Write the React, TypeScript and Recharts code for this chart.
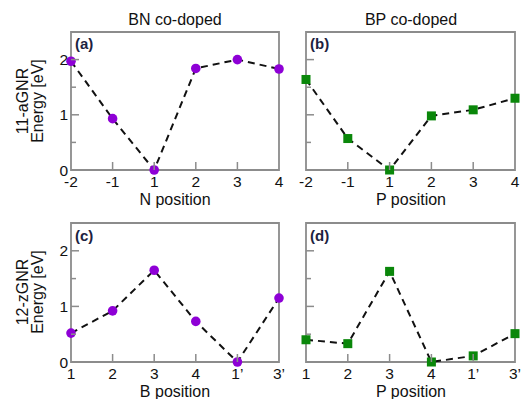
import { LineChart, Line, XAxis, YAxis, ReferenceArea } from 'recharts';

const nPositions = ['-2', '-1', '1', '2', '3', '4'];
const bnArmchair = [1.97, 0.93, 0, 1.84, 2.0, 1.83];
const bpArmchair = [1.64, 0.57, 0, 0.98, 1.09, 1.3];

const zPositions = ['1', '2', '3', '4', '1’', '3’'];
const bnZigzag = [0.52, 0.92, 1.65, 0.73, 0, 1.15];
const bpZigzag = [0.4, 0.33, 1.63, 0, 0.11, 0.51];

const yTicks = [0, 0.5, 1, 1.5, 2];

const W = 528;
const H = 399;
const FONT = '"Liberation Sans", Arial, sans-serif';
const PURPLE = '#8e00d6';
const GREEN = '#0a870a';
const FRAME = '#8c8c8c';
const AXIS_W = 30;
const AXIS_H = 25;

interface PanelProps {
  positions: string[];
  values: number[];
  box: { left: number; top: number; right: number; bottom: number };
  color: string;
  square?: boolean;
  yLabels?: boolean;
}

const Panel = ({ positions, values, box, color, square, yLabels }: PanelProps) => {
  const data = positions.map((pos, i) => ({ pos, energy: values[i] }));

  const renderXTick = (props: any) => {
    const { x, payload, index } = props;
    const edge = index === positions.length - 1 || index === 0;
    return (
      <g key={`x-${index}`}>
        {!edge && (
          <line x1={x} y1={box.bottom} x2={x} y2={box.bottom - 8} stroke={FRAME} strokeWidth={1.5} />
        )}
        <text x={x} y={box.bottom + 17} textAnchor="middle" fontSize={15.5} fontFamily={FONT} fill="#111">
          {payload.value}
        </text>
      </g>
    );
  };

  const renderYTick = (props: any) => {
    const { y, payload, index } = props;
    const major = Number.isInteger(payload.value);
    return (
      <g key={`y-${index}`}>
        {payload.value !== 0 && (
          <line
            x1={box.left}
            y1={y}
            x2={box.left + (major ? 8 : 5)}
            y2={y}
            stroke={FRAME}
            strokeWidth={1.5}
          />
        )}
        {yLabels && major && (
          <text x={box.left - 3} y={y} dy="0.36em" textAnchor="end" fontSize={15.5} fontFamily={FONT} fill="#111">
            {payload.value}
          </text>
        )}
      </g>
    );
  };

  const renderMarker = (props: any) => {
    const { cx, cy, index } = props;
    if (square) {
      return <rect key={`m-${index}`} x={cx - 4.5} y={cy - 4.5} width={9} height={9} fill={color} />;
    }
    return <circle key={`m-${index}`} cx={cx} cy={cy} r={4.8} fill={color} />;
  };

  return (
    <div style={{ position: 'absolute', left: 0, top: 0 }}>
      <LineChart
        width={W}
        height={H}
        data={data}
        margin={{
          top: box.top,
          left: box.left - AXIS_W,
          right: W - box.right,
          bottom: H - box.bottom - AXIS_H,
        }}
      >
        <XAxis
          dataKey="pos"
          height={AXIS_H}
          interval={0}
          axisLine={false}
          tickLine={false}
          tick={renderXTick}
          padding={{ left: 0, right: 0 }}
        />
        <YAxis
          type="number"
          domain={[0, 2.5]}
          ticks={yTicks}
          interval={0}
          width={AXIS_W}
          axisLine={false}
          tickLine={false}
          tick={renderYTick}
        />
        <ReferenceArea
          x1={positions[0]}
          x2={positions[positions.length - 1]}
          y1={0}
          y2={2.5}
          fill="none"
          stroke={FRAME}
          strokeWidth={1.8}
        />
        <Line
          type="linear"
          dataKey="energy"
          stroke="#111"
          strokeWidth={2}
          strokeDasharray="7 5"
          dot={renderMarker}
          activeDot={false}
          isAnimationActive={false}
        />
      </LineChart>
    </div>
  );
};

const txt = { fontFamily: FONT, fill: '#111' };

const App = () => {
  return (
    <div style={{ position: 'absolute', left: 0, top: 0, width: W, height: H, background: '#fff' }}>
      <Panel
        positions={nPositions}
        values={bnArmchair}
        box={{ left: 71, top: 32, right: 279, bottom: 170 }}
        color={PURPLE}
        yLabels
      />
      <Panel
        positions={nPositions}
        values={bpArmchair}
        box={{ left: 306, top: 32, right: 515, bottom: 170 }}
        color={GREEN}
        square
      />
      <Panel
        positions={zPositions}
        values={bnZigzag}
        box={{ left: 71, top: 223, right: 279, bottom: 362 }}
        color={PURPLE}
        yLabels
      />
      <Panel
        positions={zPositions}
        values={bpZigzag}
        box={{ left: 306, top: 223, right: 515, bottom: 362 }}
        color={GREEN}
        square
      />
      <svg
        width={W}
        height={H}
        style={{ position: 'absolute', left: 0, top: 0, pointerEvents: 'none' }}
      >
        <text x={175} y={25} textAnchor="middle" fontSize={16} {...txt}>BN co-doped</text>
        <text x={411} y={25} textAnchor="middle" fontSize={16} {...txt}>BP co-doped</text>

        <text x={175} y={205} textAnchor="middle" fontSize={16} {...txt}>N position</text>
        <text x={411} y={205} textAnchor="middle" fontSize={16} {...txt}>P position</text>
        <text x={175} y={396.5} textAnchor="middle" fontSize={16} {...txt}>B position</text>
        <text x={411} y={396.5} textAnchor="middle" fontSize={16} {...txt}>P position</text>

        <text transform="translate(28,101) rotate(-90)" textAnchor="middle" fontSize={16} {...txt}>11-aGNR</text>
        <text transform="translate(43,101) rotate(-90)" textAnchor="middle" fontSize={16} {...txt}>Energy [eV]</text>
        <text transform="translate(28,292) rotate(-90)" textAnchor="middle" fontSize={16} {...txt}>12-zGNR</text>
        <text transform="translate(43,292) rotate(-90)" textAnchor="middle" fontSize={16} {...txt}>Energy [eV]</text>

        <text x={75} y={49} fontSize={15} fontWeight="bold" fontFamily={FONT} fill="#1c2240">(a)</text>
        <text x={310} y={49} fontSize={15} fontWeight="bold" fontFamily={FONT} fill="#1c2240">(b)</text>
        <text x={75} y={241} fontSize={15} fontWeight="bold" fontFamily={FONT} fill="#1c2240">(c)</text>
        <text x={310} y={241} fontSize={15} fontWeight="bold" fontFamily={FONT} fill="#1c2240">(d)</text>
      </svg>
    </div>
  );
};

export default App;
